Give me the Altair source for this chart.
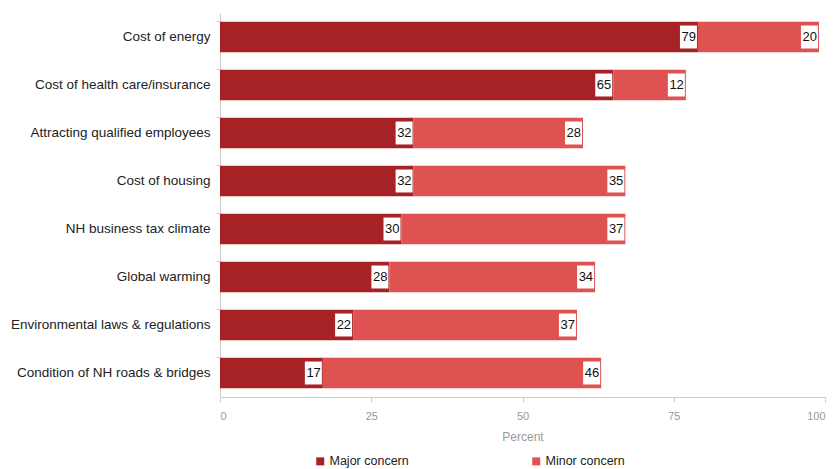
import altair as alt
import pandas as pd

categories = [
    "Cost of energy",
    "Cost of health care/insurance",
    "Attracting qualified employees",
    "Cost of housing",
    "NH business tax climate",
    "Global warming",
    "Environmental laws & regulations",
    "Condition of NH roads & bridges",
]
major = [79, 65, 32, 32, 30, 28, 22, 17]
minor = [20, 12, 28, 35, 37, 34, 37, 46]
series = ["Major concern", "Minor concern"]
colors = ["#A62227", "#DF5252"]

rows = []
for c, a, b in zip(categories, major, minor):
    rows.append({"cat": c, "series": series[0], "value": a, "start": 0, "end": a})
    rows.append({"cat": c, "series": series[1], "value": b, "start": a, "end": a + b})
df = pd.DataFrame(rows)

font = "Liberation Sans"

y = alt.Y("cat:N", sort=categories, title=None,
          scale=alt.Scale(paddingInner=0.36, paddingOuter=0.18),
          axis=alt.Axis(labelFontSize=13.5, labelColor="#222", labelFont=font,
                        domainColor="#ccc", tickColor="#ccc", tickSize=4,
                        bandPosition=0, labelPadding=6, labelLimit=300))

x_axis = alt.Axis(values=[0, 25, 50, 75, 100], grid=False, labelFontSize=11,
                  labelColor="#999", labelFont=font, domainColor="#ccc",
                  tickColor="#ccc", tickSize=5, labelPadding=8,
                  title="Percent", titleFontSize=12, titleColor="#999",
                  titleFont=font, titleFontWeight="normal", titlePadding=10)

bars = alt.Chart(df).mark_bar().encode(
    x=alt.X("start:Q", scale=alt.Scale(domain=[0, 100], nice=False), axis=x_axis),
    x2="end:Q",
    y=y,
    color=alt.Color("series:N", scale=alt.Scale(domain=series, range=colors),
                    legend=alt.Legend(title=None, orient="none", legendX=94, legendY=442,
                                      direction="horizontal", columns=2,
                                      columnPadding=121, symbolType="square",
                                      symbolSize=64, symbolStrokeWidth=0,
                                      symbolOpacity=1, labelFontSize=12.5,
                                      labelFont=font, labelColor="#222",
                                      labelOffset=3)),
)

boxes = alt.Chart(df).mark_point(
    shape="M-1,-1.35L1,-1.35L1,1.35L-1,1.35Z", filled=True, color="white",
    opacity=1, size=289, xOffset=-9.5,
).encode(x="end:Q", y=alt.Y("cat:N", sort=categories))

labels = alt.Chart(df).mark_text(
    align="right", baseline="middle", dx=-2, fontSize=13, font=font, color="#111",
).encode(x="end:Q", y=alt.Y("cat:N", sort=categories), text="value:Q")

chart = alt.layer(bars, boxes, labels).properties(
    width=605, height=384,
    autosize=alt.AutoSizeParams(type="none"),
    padding={"left": 220, "top": 13, "right": 14, "bottom": 72},
).configure_view(stroke=None)

chart.save("out.html", embed_options={"renderer": "svg", "actions": False})
